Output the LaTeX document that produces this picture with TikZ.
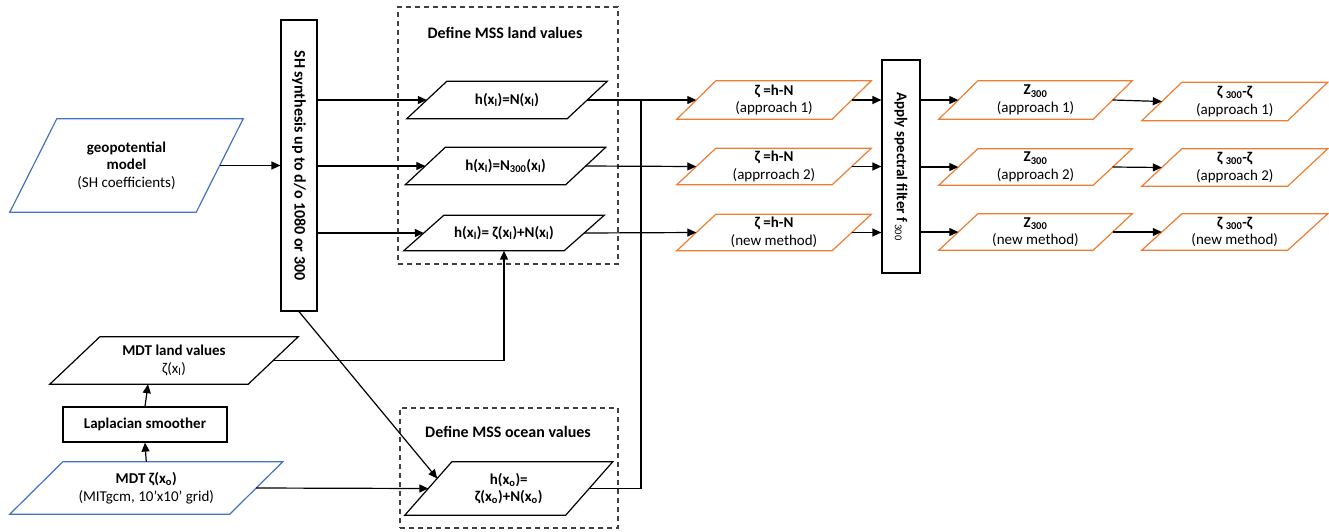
\documentclass[tikz,border=0pt]{standalone}
\usepackage{fontspec}
\setmainfont{Carlito}
\usetikzlibrary{calc,arrows.meta}
\definecolor{cblue}{HTML}{4472C4}
\definecolor{corange}{HTML}{ED7D31}
\newcommand\pgram[3]{%
  \draw[#2,line width=1.2pt] ($(#1.south west)+(-#3,0)$) -- ($(#1.south east)+(-#3,0)$) --
    ($(#1.north east)+(#3,0)$) -- ($(#1.north west)+(#3,0)$) -- cycle;}
\begin{document}
\begin{tikzpicture}[x=1pt,y=-1pt,
  pnode/.style={draw=none, inner sep=0pt, align=center, font=\fontsize{15}{17.5}\selectfont},
  rbox/.style={draw, line width=1.2pt, inner sep=0pt, align=center, font=\bfseries\fontsize{15}{17.5}\selectfont},
  ln/.style={line width=1.2pt},
  arr/.style={ln, -{Triangle[length=9pt,width=8pt]}},
  dbox/.style={draw=black!75, dash pattern=on 5pt off 4pt, line width=1.2pt, inner sep=0pt},
  ttl/.style={font=\bfseries\fontsize{16}{19}\selectfont, inner sep=0pt},
  vtxt/.style={rotate=-90, inner sep=0pt, font=\bfseries\fontsize{16}{19}\selectfont}]
\useasboundingbox (0,0) rectangle (1329,531);

% dashed group boxes
\node[dbox, minimum width=220pt, minimum height=257pt] (landbox) at (508,135.5) {};
\node[ttl] (landttl) at (505,33) {Define MSS land values};
\node[dbox, minimum width=218pt, minimum height=120pt] (oceanbox) at (509,468) {};
\node[ttl] (oceanttl) at (508,432) {Define MSS ocean values};

% input
\node[pnode, minimum width=186pt, minimum height=93pt] (geo) at (126.5,165.5)
  {\textbf{geopotential}\\\textbf{model}\\(SH coefficients)};
\pgram{geo}{cblue}{23.5}

% SH synthesis box
\node[rbox, minimum width=36pt, minimum height=291pt] (sh) at (299,165.5) {};
\node[vtxt] (shtxt) at (sh.center) {SH synthesis up to d/o 1080 or 300};

% land values
\node[pnode, minimum width=160pt, minimum height=37pt] (l1) at (507,100)
  {\textbf{h(x\textsubscript{l})=N(x\textsubscript{l})}};
\pgram{l1}{black}{20}
\node[pnode, minimum width=160pt, minimum height=37pt] (l2) at (505.5,166)
  {\textbf{h(x\textsubscript{l})=N\textsubscript{300}(x\textsubscript{l})}};
\pgram{l2}{black}{20}
\node[pnode, minimum width=160pt, minimum height=35pt] (l3) at (504,233)
  {\textbf{h(x\textsubscript{l})= ζ(x\textsubscript{l})+N(x\textsubscript{l})}};
\pgram{l3}{black}{20}

% ocean values
\node[pnode, minimum width=160.5pt, minimum height=53pt] (oc) at (508.75,488.5)
  {\textbf{h(x\textsubscript{o})=}\\\textbf{ζ(x\textsubscript{o})+N(x\textsubscript{o})}};
\pgram{oc}{black}{23.5}

% MDT chain
\node[pnode, minimum width=219.5pt, minimum height=52pt] (mdto) at (146.25,488)
  {\textbf{MDT ζ(x\textsubscript{o})}\\(MITgcm, 10’x10’ grid)};
\pgram{mdto}{cblue}{26.5}
\node[rbox, minimum width=164pt, minimum height=35pt] (lap) at (145,424.5) {Laplacian smoother};
\node[pnode, minimum width=198pt, minimum height=47pt] (mdtl) at (174,360.5)
  {\textbf{MDT land values}\\ζ(x\textsubscript{l})};
\pgram{mdtl}{black}{25}

% zeta = h - N
\node[pnode, minimum width=155pt, minimum height=38pt] (o1) at (774,100)
  {\textbf{ζ =h-N}\\(approach 1)};
\pgram{o1}{corange}{19.5}
\node[pnode, minimum width=155pt, minimum height=36pt] (o2) at (774,166.5)
  {\textbf{ζ =h-N}\\(apprroach 2)};
\pgram{o2}{corange}{19.5}
\node[pnode, minimum width=155pt, minimum height=36pt] (o3) at (774,232.5)
  {\textbf{ζ =h-N}\\(new method)};
\pgram{o3}{corange}{19.5}

% filter box
\node[rbox, minimum width=38pt, minimum height=213pt] (flt) at (901,166.5) {};
\node[vtxt, font=\bfseries\fontsize{15}{18}\selectfont] (flttxt) at (flt.center)
  {Apply spectral filter f\,\textsubscript{\mdseries 300}};

% Z300
\node[pnode, minimum width=154pt, minimum height=38pt] (z1) at (1035.5,100)
  {\textbf{Z\textsubscript{300}}\\(approach 1)};
\pgram{z1}{corange}{19.5}
\node[pnode, minimum width=154pt, minimum height=36pt] (z2) at (1035.5,167)
  {\textbf{Z\textsubscript{300}}\\(approach 2)};
\pgram{z2}{corange}{19.5}
\node[pnode, minimum width=154pt, minimum height=36pt] (z3) at (1035.5,232)
  {\textbf{Z\textsubscript{300}}\\(new method)};
\pgram{z3}{corange}{19.5}

% zeta300 - zeta
\node[pnode, minimum width=145.5pt, minimum height=38pt] (zz1) at (1234.75,101.5)
  {\textbf{ζ \textsubscript{300}-ζ}\\(approach 1)};
\pgram{zz1}{corange}{20}
\node[pnode, minimum width=145.5pt, minimum height=37pt] (zz2) at (1234.75,167.5)
  {\textbf{ζ \textsubscript{300}-ζ}\\(approach 2)};
\pgram{zz2}{corange}{20}
\node[pnode, minimum width=145.5pt, minimum height=36pt] (zz3) at (1234.75,232)
  {\textbf{ζ \textsubscript{300}-ζ}\\(new method)};
\pgram{zz3}{corange}{20}

% connectors
\draw[arr] (geo.east) -- (sh.west |- geo.east);
\draw[arr] (sh.east |- l1.west) -- (l1.west);
\draw[arr] (sh.east |- l2.west) -- (l2.west);
\draw[arr] (sh.east |- l3.west) -- (l3.west);
\draw[arr] (sh.south) -- ($(oc.west)+(9,-10)$);
\draw[arr] (mdto.east) -- (oc.west);
\draw[arr] (mdto.north) -- (lap.south);
\draw[arr] (lap.north) -- ($(lap.north |- mdtl.south)+(3,0)$);
\draw[arr] (mdtl.east) -| (l3.south);

\coordinate (jn) at (641,100);
\draw[arr] (l1.east) -- (o1.west);
\draw[arr] (l2.east) -- (o2.west);
\draw[arr] (l3.east) -- (o3.west);
\draw[ln] (oc.east) -| (jn);

\draw[arr] (o1.east) -- (flt.west |- o1.east);
\draw[arr] (o2.east) -- (flt.west |- o2.east);
\draw[arr] (o3.east) -- (flt.west |- o3.east);
\draw[arr] (flt.east |- z1.west) -- (z1.west);
\draw[arr] (flt.east |- z2.west) -- (z2.west);
\draw[arr] (flt.east |- z3.west) -- (z3.west);
\draw[arr] (z1.east) -- (zz1.west);
\draw[arr] (z2.east) -- (zz2.west);
\draw[arr] (z3.east) -- (zz3.west);
\end{tikzpicture}
\end{document}
